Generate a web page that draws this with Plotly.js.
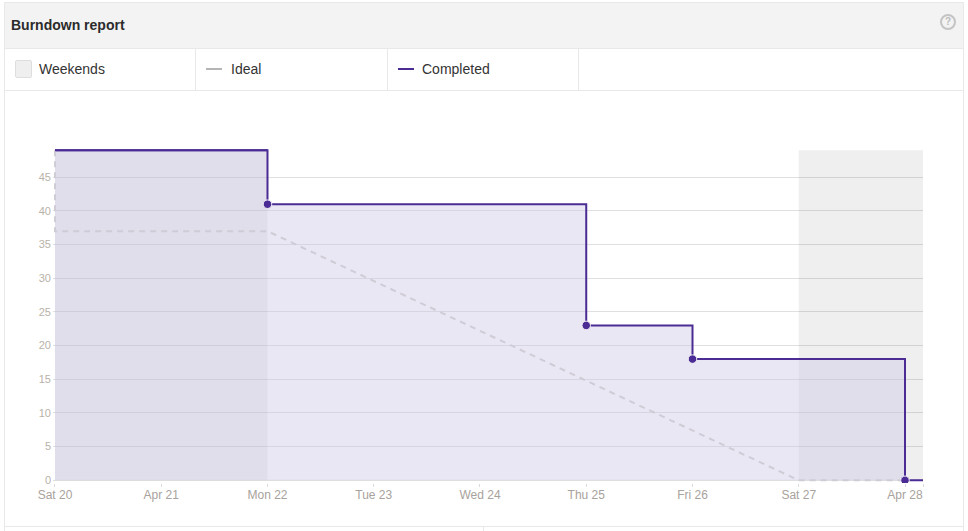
<!DOCTYPE html>
<html>
<head>
<meta charset="utf-8">
<script src="https://cdn.plot.ly/plotly-3.0.1.min.js"></script>
<style>
html,body{margin:0;padding:0;background:#fff;width:968px;height:531px;overflow:hidden;font-family:"Liberation Sans",Arial,sans-serif;}
#chart{position:absolute;left:0;top:0;width:968px;height:531px;}
.c{position:absolute;box-sizing:border-box;}
.vl{width:1px;background:#e8e8e8;}
.t{position:absolute;font-size:14px;line-height:16px;color:#333;white-space:nowrap;}
</style>
</head>
<body>
<div class="c" style="left:4px;top:2px;width:960px;height:46px;background:#f3f3f3;"></div>
<div id="chart"></div>
<div class="c" style="left:4px;top:2px;width:960px;height:1px;background:#e8e8e8;"></div>
<div class="c" style="left:4px;top:2px;width:1px;height:529px;background:#e8e8e8;"></div>
<div class="c" style="left:963px;top:2px;width:1px;height:529px;background:#e8e8e8;"></div>
<div class="c" style="left:4px;top:48px;width:960px;height:1px;background:#e8e8e8;"></div>
<div class="c" style="left:4px;top:90px;width:960px;height:1px;background:#e8e8e8;"></div>
<div class="c" style="left:4px;top:526px;width:960px;height:1px;background:#e8e8e8;"></div>
<div class="c vl" style="left:195px;top:49px;height:41px;"></div>
<div class="c vl" style="left:387px;top:49px;height:41px;"></div>
<div class="c vl" style="left:578px;top:49px;height:41px;"></div>
<div class="c vl" style="left:483px;top:527px;height:4px;"></div>
<div class="t" style="left:11px;top:17px;font-weight:bold;color:#2b2b2b;">Burndown report</div>
<div class="c" style="left:940px;top:14px;width:16px;height:16px;border:2px solid #c4c4c4;border-radius:50%;color:#bdbdbd;font-size:10px;font-weight:bold;line-height:12px;text-align:center;">?</div>
<div class="c" style="left:15px;top:60px;width:17px;height:18px;background:#efefef;border:1px solid #dedede;border-radius:2px;"></div>
<div class="t" style="left:39px;top:61px;">Weekends</div>
<div class="c" style="left:206px;top:68px;width:16px;height:2px;background:#b5b5b5;"></div>
<div class="t" style="left:231px;top:61px;">Ideal</div>
<div class="c" style="left:398px;top:68px;width:16px;height:2px;background:#4a2c94;"></div>
<div class="t" style="left:422px;top:61px;">Completed</div>
<script>
const tickDates = ['2019-04-20','2019-04-21','2019-04-22','2019-04-23','2019-04-24','2019-04-25','2019-04-26','2019-04-27','2019-04-28','2019-04-28 04:04'];
const tickLabels = ['Sat 20','Apr 21','Mon 22','Tue 23','Wed 24','Thu 25','Fri 26','Sat 27','Apr 28',''];
const yTicks = [0,5,10,15,20,25,30,35,40,45];
const completedDates = ['2019-04-20','2019-04-22','2019-04-25','2019-04-26','2019-04-28','2019-04-28 04:04'];
const completedValues = [49,41,23,18,0,0];
const pointDates = ['2019-04-22','2019-04-25','2019-04-26','2019-04-28'];
const pointValues = [41,23,18,0];
const idealDates = ['2019-04-20','2019-04-20','2019-04-22','2019-04-27','2019-04-28'];
const idealValues = [49,37,37,0,0];
const weekendBands = [['2019-04-20','2019-04-22'],['2019-04-27','2019-04-28 04:04']];
const xRange = ['2019-04-19 23:33','2019-04-28 04:04'];
const yRange = [-0.4,49.2];
const yMax = 49;

const purple = '#4a2c94';
const traces = [
  {x:completedDates,y:completedValues,mode:'lines',name:'Completed',
   line:{color:purple,width:2,shape:'hv'},fill:'tozeroy',fillcolor:'rgba(205,198,228,0.42)'},
  {x:idealDates,y:idealValues,mode:'lines',name:'Ideal',
   line:{color:'#cfccd6',width:2,dash:'6px,5px'}},
  {x:[completedDates[0],completedDates[1]],y:[completedValues[0],completedValues[0]],mode:'lines',name:'Completed top',
   line:{color:purple,width:2}},
  {x:pointDates,y:pointValues,mode:'markers',name:'Completed points',
   marker:{color:purple,size:8.5,line:{color:'#f2f0f8',width:1}}}
];
const bandShapes = weekendBands.map(b=>({type:'rect',xref:'x',yref:'y',x0:b[0],x1:b[1],y0:0,y1:yMax,
    fillcolor:'rgba(0,0,0,0.063)',line:{width:0},layer:'between'}));
const gutter = {type:'rect',xref:'x',yref:'paper',x0:xRange[0],x1:weekendBands[0][0],y0:0,y1:1,
    fillcolor:'#ffffff',line:{width:0},layer:'between'};
const baseline = {type:'line',xref:'x',yref:'y',x0:weekendBands[0][0],x1:xRange[1],y0:0,y1:0,line:{color:'#e2e2e2',width:1},layer:'between'};
const layout = {
  width:968,height:531,showlegend:false,
  paper_bgcolor:'rgba(0,0,0,0)',plot_bgcolor:'rgba(0,0,0,0)',
  margin:{l:53,r:45,t:149,b:48,pad:0},
  font:{family:'"Liberation Sans",Arial,sans-serif',size:11,color:'#b0aaa3'},
  xaxis:{type:'date',range:xRange,tickmode:'array',tickvals:tickDates,ticktext:tickLabels,
    showgrid:false,zeroline:false,showline:false,
    ticks:'outside',ticklen:3,tickwidth:1,tickcolor:'#dcdcdc',tickangle:0,ticklabelstandoff:-2,
    tickfont:{size:12,color:'#a8a29c'}},
  yaxis:{range:yRange,tickmode:'array',tickvals:yTicks,showgrid:true,gridcolor:'#e0e0e0',gridwidth:1,
    zeroline:false,showline:false,ticks:'',ticklabelstandoff:1,tickfont:{size:11,color:'#b8b2a8'}},
  shapes:bandShapes.concat([gutter,baseline])
};
Plotly.newPlot('chart',traces,layout,{displayModeBar:false,staticPlot:true});
</script>
</body>
</html>
